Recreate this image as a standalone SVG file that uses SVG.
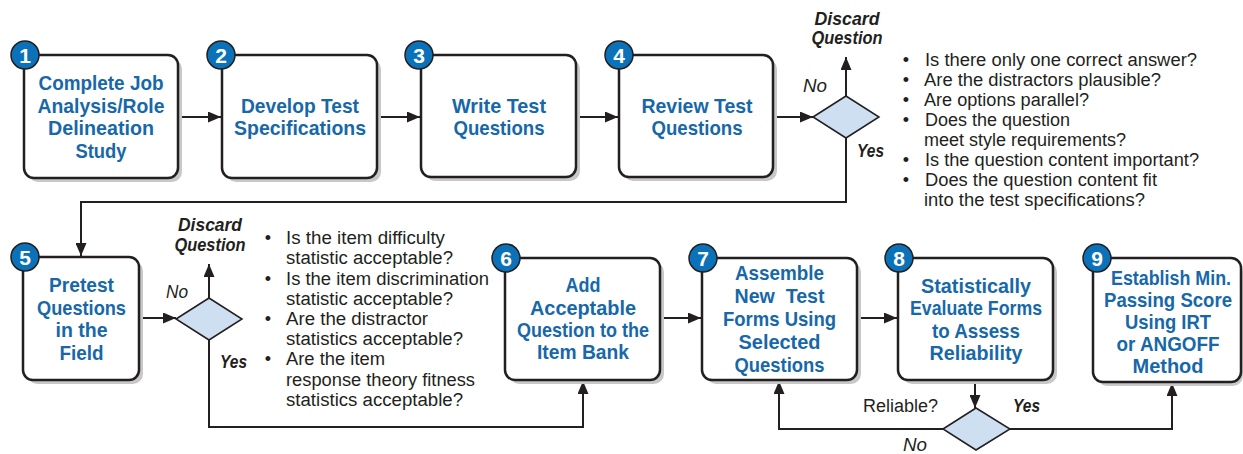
<svg xmlns="http://www.w3.org/2000/svg" width="1243" height="454" viewBox="0 0 1243 454">
<style>
.bg{fill:#ffffff}
.shadow{fill:#c8c8c8}
.box{fill:#ffffff;stroke:#231f20;stroke-width:2.5}
.num{fill:#0b72b9;stroke:#231f20;stroke-width:1.5}
.numt{font-family:"Liberation Sans",Arial,sans-serif;font-weight:bold;font-size:21px;fill:#ffffff;text-anchor:middle}
.bt{font-family:"Liberation Sans",Arial,sans-serif;font-weight:bold;font-size:20.5px;fill:#1768a8;text-anchor:middle}
.line{fill:none;stroke:#231f20;stroke-width:2}
.dia{fill:#cddff0;stroke:#231f20;stroke-width:1.5}
.tx{font-family:"Liberation Sans",Arial,sans-serif;font-size:18px;fill:#231f20}
.bi{font-family:"Liberation Sans",Arial,sans-serif;font-size:18.5px;font-weight:bold;font-style:italic;fill:#231f20}
.it{font-family:"Liberation Sans",Arial,sans-serif;font-size:18px;font-style:italic;fill:#231f20}
.mid{text-anchor:middle}
</style>
<defs>
<marker id="arr" markerUnits="userSpaceOnUse" markerWidth="13" markerHeight="11" refX="13" refY="5.5" orient="auto">
<path d="M0,0 L13,5.5 L0,11 Z" fill="#231f20"/>
</marker>
</defs>
<rect class="bg" x="0" y="0" width="1243" height="454"/>

<g id="connectors">
<path class="line" d="M178,117 H221" marker-end="url(#arr)"/>
<path class="line" d="M377,117 H420" marker-end="url(#arr)"/>
<path class="line" d="M576,117 H618" marker-end="url(#arr)"/>
<path class="line" d="M773,117 H813" marker-end="url(#arr)"/>
<path class="line" d="M846,96 V57" marker-end="url(#arr)"/>
<path class="line" d="M846,138 V202 H81 V256" marker-end="url(#arr)"/>
<path class="line" d="M139,318 H176" marker-end="url(#arr)"/>
<path class="line" d="M209,298 V264" marker-end="url(#arr)"/>
<path class="line" d="M209,340 V427 H583 V381" marker-end="url(#arr)"/>
<path class="line" d="M660,318 H701" marker-end="url(#arr)"/>
<path class="line" d="M857,318 H897" marker-end="url(#arr)"/>
<path class="line" d="M975,380 V408" marker-end="url(#arr)"/>
<path class="line" d="M1010,429 H1172 V383" marker-end="url(#arr)"/>
<path class="line" d="M943,429 H779 V381" marker-end="url(#arr)"/>
</g>

<g id="node1">
<rect class="shadow" x="28" y="59" width="154" height="123" rx="10"/>
<rect class="box" x="24" y="55" width="154" height="123" rx="10"/>
<circle class="num" cx="25" cy="55" r="14"/>
<text class="numt" x="25" y="62.5">1</text>
<text class="bt" x="101" y="90" textLength="125" lengthAdjust="spacingAndGlyphs">Complete Job</text>
<text class="bt" x="101" y="113" textLength="127" lengthAdjust="spacingAndGlyphs">Analysis/Role</text>
<text class="bt" x="101" y="135" textLength="106" lengthAdjust="spacingAndGlyphs">Delineation</text>
<text class="bt" x="101" y="158" textLength="51" lengthAdjust="spacingAndGlyphs">Study</text>
</g>

<g id="node2">
<rect class="shadow" x="226" y="59" width="155" height="123" rx="10"/>
<rect class="box" x="222" y="55" width="155" height="123" rx="10"/>
<circle class="num" cx="221" cy="55" r="14"/>
<text class="numt" x="221" y="62.5">2</text>
<text class="bt" x="300" y="113" textLength="118" lengthAdjust="spacingAndGlyphs">Develop Test</text>
<text class="bt" x="300" y="135" textLength="132" lengthAdjust="spacingAndGlyphs">Specifications</text>
</g>

<g id="node3">
<rect class="shadow" x="425" y="59" width="155" height="122" rx="10"/>
<rect class="box" x="421" y="55" width="155" height="122" rx="10"/>
<circle class="num" cx="419" cy="55" r="14"/>
<text class="numt" x="419" y="62.5">3</text>
<text class="bt" x="499" y="113" textLength="94" lengthAdjust="spacingAndGlyphs">Write Test</text>
<text class="bt" x="499" y="135" textLength="91" lengthAdjust="spacingAndGlyphs">Questions</text>
</g>

<g id="node4">
<rect class="shadow" x="623" y="59" width="154" height="122" rx="10"/>
<rect class="box" x="619" y="55" width="154" height="122" rx="10"/>
<circle class="num" cx="619" cy="55" r="14"/>
<text class="numt" x="619" y="62.5">4</text>
<text class="bt" x="697" y="113" textLength="111" lengthAdjust="spacingAndGlyphs">Review Test</text>
<text class="bt" x="697" y="135" textLength="91" lengthAdjust="spacingAndGlyphs">Questions</text>
</g>

<g id="decision1">
<polygon class="dia" points="813,117 846,96 879,117 846,138"/>
<text class="bi mid" x="847" y="25" textLength="65" lengthAdjust="spacingAndGlyphs">Discard</text>
<text class="bi mid" x="847" y="44" textLength="71" lengthAdjust="spacingAndGlyphs">Question</text>
<text class="it" x="803" y="92" textLength="24" lengthAdjust="spacingAndGlyphs">No</text>
<text class="bi" x="857" y="157" textLength="27" lengthAdjust="spacingAndGlyphs">Yes</text>
</g>

<g id="checklist1">
<text class="tx mid" x="906" y="66">•</text>
<text class="tx" x="925" y="66" textLength="272" lengthAdjust="spacingAndGlyphs">Is there only one correct answer?</text>
<text class="tx mid" x="906" y="86">•</text>
<text class="tx" x="924" y="86" textLength="237" lengthAdjust="spacingAndGlyphs">Are the distractors plausible?</text>
<text class="tx mid" x="906" y="106">•</text>
<text class="tx" x="924" y="106" textLength="165" lengthAdjust="spacingAndGlyphs">Are options parallel?</text>
<text class="tx mid" x="906" y="126">•</text>
<text class="tx" x="925" y="126" textLength="145" lengthAdjust="spacingAndGlyphs">Does the question</text>
<text class="tx" x="924" y="146" textLength="202" lengthAdjust="spacingAndGlyphs">meet style requirements?</text>
<text class="tx mid" x="906" y="166">•</text>
<text class="tx" x="925" y="166" textLength="274" lengthAdjust="spacingAndGlyphs">Is the question content important?</text>
<text class="tx mid" x="906" y="186">•</text>
<text class="tx" x="925" y="186" textLength="232" lengthAdjust="spacingAndGlyphs">Does the question content fit</text>
<text class="tx" x="924" y="206" textLength="221" lengthAdjust="spacingAndGlyphs">into the test specifications?</text>
</g>

<g id="node5">
<rect class="shadow" x="27" y="261" width="116" height="123" rx="10"/>
<rect class="box" x="23" y="257" width="116" height="123" rx="10"/>
<circle class="num" cx="25" cy="257" r="14"/>
<text class="numt" x="25" y="264.5">5</text>
<text class="bt" x="81.5" y="292" textLength="65" lengthAdjust="spacingAndGlyphs">Pretest</text>
<text class="bt" x="81.5" y="315" textLength="89" lengthAdjust="spacingAndGlyphs">Questions</text>
<text class="bt" x="81.5" y="337" textLength="52" lengthAdjust="spacingAndGlyphs">in the</text>
<text class="bt" x="81.5" y="360" textLength="44" lengthAdjust="spacingAndGlyphs">Field</text>
</g>

<g id="decision2">
<polygon class="dia" points="176,319 209,298 242,319 209,340"/>
<text class="bi mid" x="210" y="231" textLength="64" lengthAdjust="spacingAndGlyphs">Discard</text>
<text class="bi mid" x="210" y="251" textLength="71" lengthAdjust="spacingAndGlyphs">Question</text>
<text class="it" x="166" y="298" textLength="22" lengthAdjust="spacingAndGlyphs">No</text>
<text class="bi" x="220" y="368" textLength="27" lengthAdjust="spacingAndGlyphs">Yes</text>
</g>

<g id="checklist2">
<text class="tx mid" x="268" y="244">•</text>
<text class="tx" x="286" y="244" textLength="159" lengthAdjust="spacingAndGlyphs">Is the item difficulty</text>
<text class="tx" x="286" y="264" textLength="167" lengthAdjust="spacingAndGlyphs">statistic acceptable?</text>
<text class="tx mid" x="268" y="285">•</text>
<text class="tx" x="286" y="285" textLength="203" lengthAdjust="spacingAndGlyphs">Is the item discrimination</text>
<text class="tx" x="286" y="305" textLength="167" lengthAdjust="spacingAndGlyphs">statistic acceptable?</text>
<text class="tx mid" x="268" y="325">•</text>
<text class="tx" x="286" y="325" textLength="142" lengthAdjust="spacingAndGlyphs">Are the distractor</text>
<text class="tx" x="286" y="345" textLength="177" lengthAdjust="spacingAndGlyphs">statistics acceptable?</text>
<text class="tx mid" x="268" y="365">•</text>
<text class="tx" x="286" y="365" textLength="99" lengthAdjust="spacingAndGlyphs">Are the item</text>
<text class="tx" x="286" y="386" textLength="189" lengthAdjust="spacingAndGlyphs">response theory fitness</text>
<text class="tx" x="286" y="406" textLength="177" lengthAdjust="spacingAndGlyphs">statistics acceptable?</text>
</g>

<g id="node6">
<rect class="shadow" x="509" y="262" width="155" height="122" rx="10"/>
<rect class="box" x="505" y="258" width="155" height="122" rx="10"/>
<circle class="num" cx="506" cy="258" r="14"/>
<text class="numt" x="506" y="265.5">6</text>
<text class="bt" x="583" y="292" textLength="35" lengthAdjust="spacingAndGlyphs">Add</text>
<text class="bt" x="583" y="315" textLength="106" lengthAdjust="spacingAndGlyphs">Acceptable</text>
<text class="bt" x="583" y="337" textLength="132" lengthAdjust="spacingAndGlyphs">Question to the</text>
<text class="bt" x="583" y="359" textLength="92" lengthAdjust="spacingAndGlyphs">Item Bank</text>
</g>

<g id="node7">
<rect class="shadow" x="706" y="262" width="155" height="122" rx="10"/>
<rect class="box" x="702" y="258" width="155" height="122" rx="10"/>
<circle class="num" cx="703" cy="258" r="14"/>
<text class="numt" x="703" y="265.5">7</text>
<text class="bt" x="779.5" y="280" textLength="89" lengthAdjust="spacingAndGlyphs">Assemble</text>
<text class="bt" x="779.5" y="303" textLength="90" lengthAdjust="spacingAndGlyphs" xml:space="preserve">New  Test</text>
<text class="bt" x="779.5" y="326" textLength="113" lengthAdjust="spacingAndGlyphs">Forms Using</text>
<text class="bt" x="779.5" y="349" textLength="82" lengthAdjust="spacingAndGlyphs">Selected</text>
<text class="bt" x="779.5" y="372" textLength="90" lengthAdjust="spacingAndGlyphs">Questions</text>
</g>

<g id="node8">
<rect class="shadow" x="902" y="262" width="155" height="122" rx="10"/>
<rect class="box" x="898" y="258" width="155" height="122" rx="10"/>
<circle class="num" cx="899" cy="258" r="14"/>
<text class="numt" x="899" y="265.5">8</text>
<text class="bt" x="976" y="293" textLength="110" lengthAdjust="spacingAndGlyphs">Statistically</text>
<text class="bt" x="976" y="315" textLength="132" lengthAdjust="spacingAndGlyphs">Evaluate Forms</text>
<text class="bt" x="976" y="338" textLength="88" lengthAdjust="spacingAndGlyphs">to Assess</text>
<text class="bt" x="976" y="360" textLength="93" lengthAdjust="spacingAndGlyphs">Reliability</text>
</g>

<g id="decision3">
<polygon class="dia" points="943,429 976,408 1010,429 976,450"/>
<text class="tx" x="863" y="412" textLength="75" lengthAdjust="spacingAndGlyphs">Reliable?</text>
<text class="bi" x="1013" y="412" textLength="27" lengthAdjust="spacingAndGlyphs">Yes</text>
<text class="it" x="903" y="451" textLength="24" lengthAdjust="spacingAndGlyphs">No</text>
</g>

<g id="node9">
<rect class="shadow" x="1097" y="262" width="146" height="124" rx="10"/>
<rect class="box" x="1093" y="258" width="148" height="124" rx="10"/>
<circle class="num" cx="1097" cy="258" r="14"/>
<text class="numt" x="1097" y="265.5">9</text>
<text class="bt" x="1171" y="285" style="font-size:19.5px" textLength="120" lengthAdjust="spacingAndGlyphs">Establish Min.</text>
<text class="bt" x="1168" y="307" textLength="128" lengthAdjust="spacingAndGlyphs">Passing Score</text>
<text class="bt" x="1168" y="329" textLength="86" lengthAdjust="spacingAndGlyphs">Using IRT</text>
<text class="bt" x="1168" y="351" textLength="103" lengthAdjust="spacingAndGlyphs">or ANGOFF</text>
<text class="bt" x="1168" y="373" textLength="71" lengthAdjust="spacingAndGlyphs">Method</text>
</g>
</svg>
